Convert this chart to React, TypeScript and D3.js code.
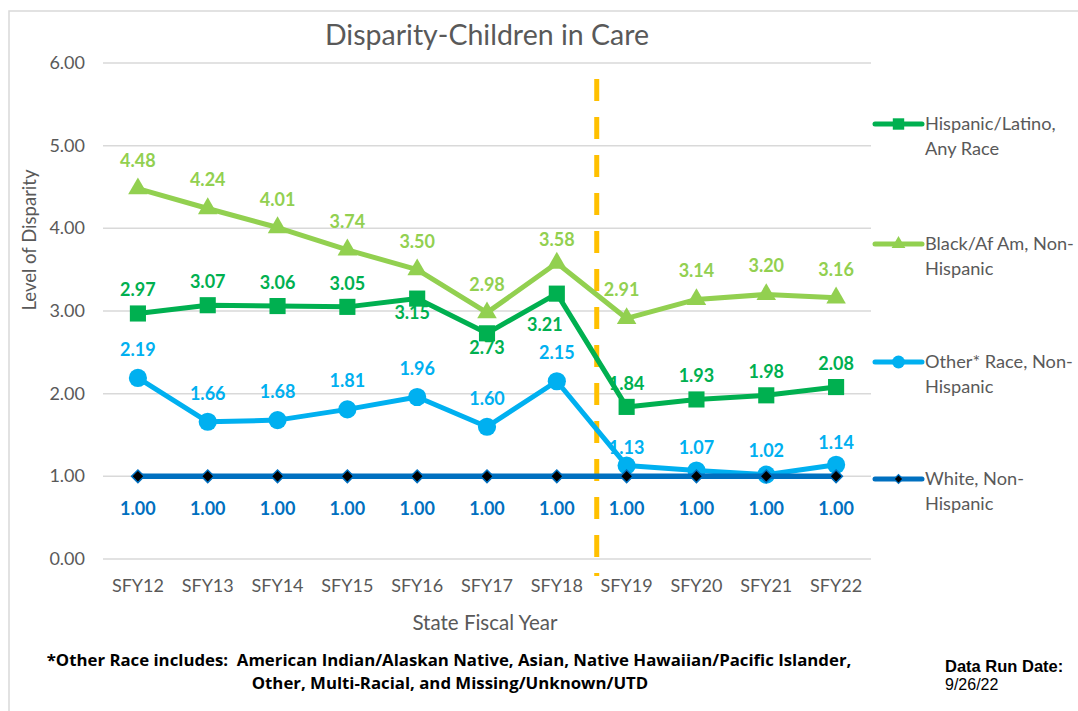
import React from 'react';
import * as d3 from 'd3';

const categories = ['SFY12', 'SFY13', 'SFY14', 'SFY15', 'SFY16', 'SFY17', 'SFY18', 'SFY19', 'SFY20', 'SFY21', 'SFY22'];
const hispanic = [2.97, 3.07, 3.06, 3.05, 3.15, 2.73, 3.21, 1.84, 1.93, 1.98, 2.08];
const blackAfAm = [4.48, 4.24, 4.01, 3.74, 3.5, 2.98, 3.58, 2.91, 3.14, 3.2, 3.16];
const otherRace = [2.19, 1.66, 1.68, 1.81, 1.96, 1.6, 2.15, 1.13, 1.07, 1.02, 1.14];
const white = [1.0, 1.0, 1.0, 1.0, 1.0, 1.0, 1.0, 1.0, 1.0, 1.0, 1.0];
const yTicks = [0, 1, 2, 3, 4, 5, 6];

const FONT = 'Lato, "Open Sans", sans-serif';
const GRAY = '#595959';

type Series = {
  name: string[];
  values: number[];
  color: string;
  symbol: d3.SymbolType;
  symSize: number;
  symRotate: number;
  symFill: string;
  symStroke: string;
  labelColor: string;
  labelDy: number;
  nudges: Record<number, [number, number]>;
};

const series: Series[] = [
  {
    name: ['Hispanic/Latino,', 'Any Race'], values: hispanic, color: '#00B050',
    symbol: d3.symbolSquare, symSize: 260, symRotate: 0, symFill: '#00B050', symStroke: 'none',
    labelColor: '#00B050', labelDy: -24,
    nudges: { 4: [-5, 37], 5: [0, 38], 6: [-12, 54] },
  },
  {
    name: ['Black/Af Am, Non-', 'Hispanic'], values: blackAfAm, color: '#92D050',
    symbol: d3.symbolTriangle, symSize: 165, symRotate: 0, symFill: '#92D050', symStroke: 'none',
    labelColor: '#92D050', labelDy: -29,
    nudges: { 6: [0, 5], 7: [-5, 0] },
  },
  {
    name: ['Other* Race, Non-', 'Hispanic'], values: otherRace, color: '#00B0F0',
    symbol: d3.symbolCircle, symSize: 260, symRotate: 0, symFill: '#00B0F0', symStroke: 'none',
    labelColor: '#00B0F0', labelDy: -29,
    nudges: { 7: [0, 10], 8: [0, 5], 9: [0, 4], 10: [0, 6] },
  },
  {
    name: ['White, Non-', 'Hispanic'], values: white, color: '#0070C0',
    symbol: d3.symbolSquare, symSize: 80, symRotate: 45, symFill: '#000000', symStroke: '#0070C0',
    labelColor: '#0070C0', labelDy: 32,
    nudges: {},
  },
];

export default function App() {
  const width = 1078;
  const height = 711;
  const x = d3.scalePoint<string>().domain(categories).range([103, 871]).padding(0.5);
  const y = d3.scaleLinear().domain([0, 6]).range([559, 63]);
  const line = d3.line<number>().x((_, i) => x(categories[i]) as number).y((d) => y(d));
  const dividerX = ((x('SFY18') as number) + (x('SFY19') as number)) / 2 + 5;

  const legendY = [124, 244, 362, 479];

  return (
    <svg width={width} height={height} style={{ position: 'absolute', left: 0, top: 0, background: '#fff' }}>
      <rect x={0} y={0} width={width} height={height} fill="#fff" />
      <rect x={9} y={11} width={1100} height={720} fill="none" stroke="#D9D9D9" strokeWidth={1.5} />
      <text x={487} y={45} textAnchor="middle" fontFamily={FONT} fontSize={28.5} fill={GRAY}>
        Disparity-Children in Care
      </text>
      {yTicks.map((t) => (
        <g key={t}>
          <line x1={103} x2={871} y1={y(t)} y2={y(t)} stroke="#D9D9D9" strokeWidth={1.5} />
          <text x={85} y={y(t) + 6} textAnchor="end" fontFamily={FONT} fontSize={18} fill={GRAY}>
            {t.toFixed(2)}
          </text>
        </g>
      ))}
      <text transform={`translate(36,${240}) rotate(-90)`} textAnchor="middle" fontFamily={FONT} fontSize={18.5} fill={GRAY}>
        Level of Disparity
      </text>
      {categories.map((c) => (
        <text key={c} x={x(c)} y={592} textAnchor="middle" fontFamily={FONT} fontSize={18} fill={GRAY}>
          {c}
        </text>
      ))}
      <text x={485} y={630} textAnchor="middle" fontFamily={FONT} fontSize={20.5} fill={GRAY}>
        State Fiscal Year
      </text>
      <line x1={dividerX} x2={dividerX} y1={79} y2={576} stroke="#FFC000" strokeWidth={5} strokeDasharray="22 16" />
      {series.map((s, si) => (
        <g key={si}>
          <path d={line(s.values) || ''} fill="none" stroke={s.color} strokeWidth={si === 3 ? 5.5 : 5} strokeLinejoin="round" />
          {s.values.map((v, i) => (
            <path
              key={i}
              d={d3.symbol().type(s.symbol).size(s.symSize)() || ''}
              transform={`translate(${x(categories[i])},${y(v)}) rotate(${s.symRotate})`}
              fill={s.symFill}
              stroke={s.symStroke}
              strokeWidth={s.symStroke === 'none' ? 0 : 1.5}
            />
          ))}
        </g>
      ))}
      {series.map((s, si) => (
        <g key={'l' + si}>
          {s.values.map((v, i) => {
            const n = s.nudges[i] || [0, 0];
            return (
              <text
                key={i}
                x={(x(categories[i]) as number) + n[0]}
                y={y(v) + s.labelDy + n[1] + 7}
                textAnchor="middle"
                fontFamily={FONT}
                fontWeight="bold"
                fontSize={18}
                fill={s.labelColor}
              >
                {v.toFixed(2)}
              </text>
            );
          })}
        </g>
      ))}
      {series.map((s, si) => (
        <g key={'lg' + si}>
          <line x1={875} x2={922} y1={legendY[si]} y2={legendY[si]} stroke={s.color} strokeWidth={5} strokeLinecap="round" />
          <path
            d={d3.symbol().type(s.symbol).size(s.symSize * 0.5)() || ''}
            transform={`translate(898.5,${legendY[si]}) rotate(${s.symRotate})`}
            fill={s.symFill}
            stroke={s.symStroke}
            strokeWidth={s.symStroke === 'none' ? 0 : 1.2}
          />
          <text x={925} y={legendY[si] + 6} fontFamily={FONT} fontSize={18.2} fill={GRAY}>{s.name[0]}</text>
          <text x={925} y={legendY[si] + 31} fontFamily={FONT} fontSize={18.2} fill={GRAY}>{s.name[1]}</text>
        </g>
      ))}
      <text x={449} y={666} textAnchor="middle" fontFamily='"Open Sans", Lato, sans-serif' fontWeight="bold" fontSize={16.8} fill="#000" style={{ whiteSpace: 'pre' }}>
        {'*Other Race includes:  American Indian/Alaskan Native, Asian, Native Hawaiian/Pacific Islander,'}
      </text>
      <text x={450} y={689} textAnchor="middle" fontFamily='"Open Sans", Lato, sans-serif' fontWeight="bold" fontSize={16.8} fill="#000">
        Other, Multi-Racial, and Missing/Unknown/UTD
      </text>
      <text x={945} y={672} fontFamily='"Liberation Sans", Arial, sans-serif' fontWeight="bold" fontSize={16.5} fill="#000">
        Data Run Date:
      </text>
      <text x={945} y={690} fontFamily='"Liberation Sans", Arial, sans-serif' fontSize={16} fill="#000">
        9/26/22
      </text>
    </svg>
  );
}
